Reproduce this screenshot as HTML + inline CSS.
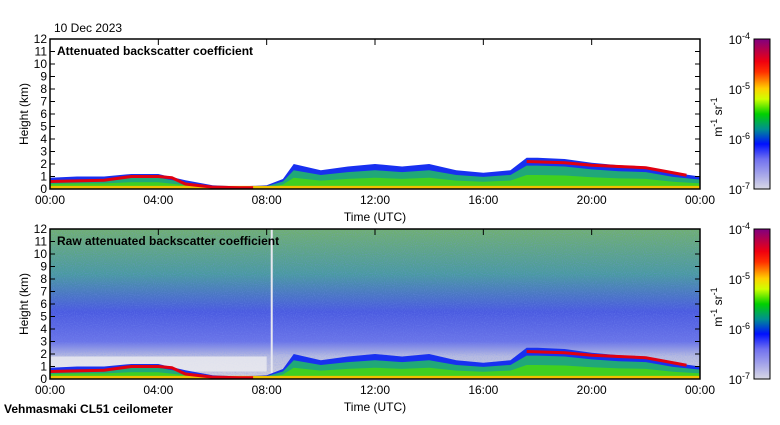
<!DOCTYPE html>
<html><head><meta charset="utf-8"><style>
body{margin:0;background:#fff;width:780px;height:420px;overflow:hidden;font-family:"Liberation Sans",sans-serif}
svg text{font-family:"Liberation Sans",sans-serif;font-size:12px;fill:#000}
</style></head><body>
<svg id="c" width="780" height="420" xmlns="http://www.w3.org/2000/svg">
<defs>
<linearGradient id="cb" x1="0" y1="1" x2="0" y2="0">
<stop offset="0" stop-color="#d8d8e4"/><stop offset="0.2" stop-color="#7070f0"/><stop offset="0.3" stop-color="#0010ff"/>
<stop offset="0.4" stop-color="#009090"/><stop offset="0.5" stop-color="#00d000"/><stop offset="0.6" stop-color="#d0ff00"/>
<stop offset="0.67" stop-color="#ffd000"/><stop offset="0.78" stop-color="#ff3000"/><stop offset="0.85" stop-color="#f00010"/>
<stop offset="1" stop-color="#800080"/></linearGradient>
<linearGradient id="bg2" x1="0" y1="0" x2="0" y2="1">
<stop offset="0" stop-color="#70b070"/><stop offset="0.3" stop-color="#4a9aa0"/><stop offset="0.55" stop-color="#4a5ae0"/>
<stop offset="0.75" stop-color="#6a74e8"/><stop offset="0.85" stop-color="#b8bce0"/><stop offset="1" stop-color="#d0d0dc"/></linearGradient>
<clipPath id="clip2"><rect x="50" y="229" width="650" height="150"/></clipPath>
<filter id="nz" x="0" y="0" width="1" height="1"><feTurbulence type="fractalNoise" baseFrequency="0.9" numOctaves="1" seed="3"/><feColorMatrix values="0 0 0 0 0.2 0 0 0 0 0.3 0 0 0 0 0.9 0 0 0 1.4 -0.6"/></filter>
</defs>
<text x="54" y="32">10 Dec 2023</text>
<g id="p1"></g>
<g id="p2"></g>
<text x="4" y="413" font-weight="bold">Vehmasmaki CL51 ceilometer</text>
</svg>
<script>
const hours=[0,1,2,3,4,5,6,7,8,8.6,9,10,11,12,13,14,15,16,17,17.6,18,19,20,21,22,23,24];
const layerTop=[0.9,1.0,1.0,1.2,1.2,0.7,0.3,0.2,0.3,0.8,2.0,1.5,1.8,2.0,1.8,2.0,1.5,1.3,1.5,2.5,2.5,2.4,2.1,1.9,1.8,1.3,1.0];
const cloudT=[0,1,2,3,4,4.5,5,6,7,7.5];
const cloudH=[0.6,0.65,0.7,1.0,1.0,0.9,0.4,0.15,0.1,0.1];
const cloud2T=[17.6,19,20,21,22,23,23.5];
const cloud2H=[2.2,2.1,1.9,1.8,1.7,1.3,1.1];
const xTicks=['00:00','04:00','08:00','12:00','16:00','20:00','00:00'];
const yTicks=[0,1,2,3,4,5,6,7,8,9,10,11,12];
const cbTicks=['-7','-6','-5','-4'];
const NS='http://www.w3.org/2000/svg';
const X0=50,X1=700;
const sx=h=>X0+(X1-X0)*h/24;
function mk(p,t,a){const e=document.createElementNS(NS,t);for(const k in a)e.setAttribute(k,a[k]);p.appendChild(e);return e;}
function panel(g,top,title,raw){
 const sy=km=>top+150-km*12.5;
 const bot=sy(0);
 if(raw){const cg=mk(g,'g',{'clip-path':'url(#clip2)'});
  
  const r=mk(cg,'rect',{x:X0,y:top,width:650,height:150,fill:'url(#bg2)'});
  
  const n=mk(cg,'rect',{x:X0,y:top,width:650,height:150,filter:'url(#nz)',opacity:0.6});
  
  const w=mk(cg,'rect',{x:X0,y:sy(1.8),width:sx(8)-X0,height:sy(0.6)-sy(1.8),fill:'#ececf0',opacity:0.8});
  
  const v=mk(cg,'rect',{x:sx(8.15),y:top,width:2,height:150,fill:'#e8e8f0'});
  }
 const layers=[[1.0,'#1830f0','aerosol-blue'],[0.75,'#20a878','aerosol-teal'],[0.45,'#40d020','aerosol-green']];
 for(const [f,col,nm] of layers){
  let d='M'+sx(0)+','+bot;
  hours.forEach((h,i)=>{d+=' L'+sx(h)+','+sy(layerTop[i]*f);});
  d+=' L'+sx(24)+','+bot+' Z';
  const p=mk(g,'path',{d,fill:col});}
 const y1=mk(g,'rect',{x:X0,y:sy(0.25),width:650,height:sy(0)-sy(0.25),fill:'#f0c000'});
 
 for(const [T,H,nm] of [[cloudT,cloudH,'cloud-base-1'],[cloud2T,cloud2H,'cloud-base-2']]){
  let d='';T.forEach((t,i)=>{d+=(i?' L':'M')+sx(t)+','+sy(H[i]);});
  const p=mk(g,'path',{d,fill:'none',stroke:'#e00010','stroke-width':3});}
 const fr=mk(g,'rect',{x:X0,y:top,width:650,height:150,fill:'none',stroke:'#000','stroke-width':1.5});
 
 yTicks.forEach(v=>{const y=sy(v);
  const l=mk(g,'line',{x1:X0,x2:X0+5,y1:y,y2:y,stroke:'#000'});
  const l2=mk(g,'line',{x1:X1-5,x2:X1,y1:y,y2:y,stroke:'#000'});
  const t=mk(g,'text',{x:X0-3,y:y+4,'text-anchor':'end'});t.textContent=v;});
 xTicks.forEach((s,i)=>{const x=sx(i*4);
  const l=mk(g,'line',{x1:x,x2:x,y1:top,y2:top+6,stroke:'#000'});
  const t=mk(g,'text',{x:x,y:bot+15,'text-anchor':'middle'});t.textContent=s;});
 const xt=mk(g,'text',{x:375,y:bot+32,'text-anchor':'middle'});xt.textContent='Time (UTC)';
 const yt=mk(g,'text',{x:28,y:top+75,'text-anchor':'middle',transform:'rotate(-90 28 '+(top+75)+')'});yt.textContent='Height (km)';
 const tt=mk(g,'text',{x:57,y:top+16,'font-weight':'bold'});tt.textContent=title;
 const cb=mk(g,'rect',{x:754,y:top,width:16,height:150,fill:'url(#cb)',stroke:'#000'});
 cbTicks.forEach((e,i)=>{const y=top+150-i*50;
  const t=mk(g,'text',{x:750,y:y+5,'text-anchor':'end'});t.innerHTML='10<tspan dy="-5" font-size="9">'+e+'</tspan>';});
 const ut=mk(g,'text',{x:722,y:top+78,'text-anchor':'middle',transform:'rotate(-90 722 '+(top+78)+')'});ut.innerHTML='m<tspan dy="-5" font-size="9">-1</tspan><tspan dy="5"> sr</tspan><tspan dy="-5" font-size="9">-1</tspan>';
}
panel(document.getElementById('p1'),39,'Attenuated backscatter coefficient',false);
panel(document.getElementById('p2'),229,'Raw attenuated backscatter coefficient',true);
</script>
</body></html>
